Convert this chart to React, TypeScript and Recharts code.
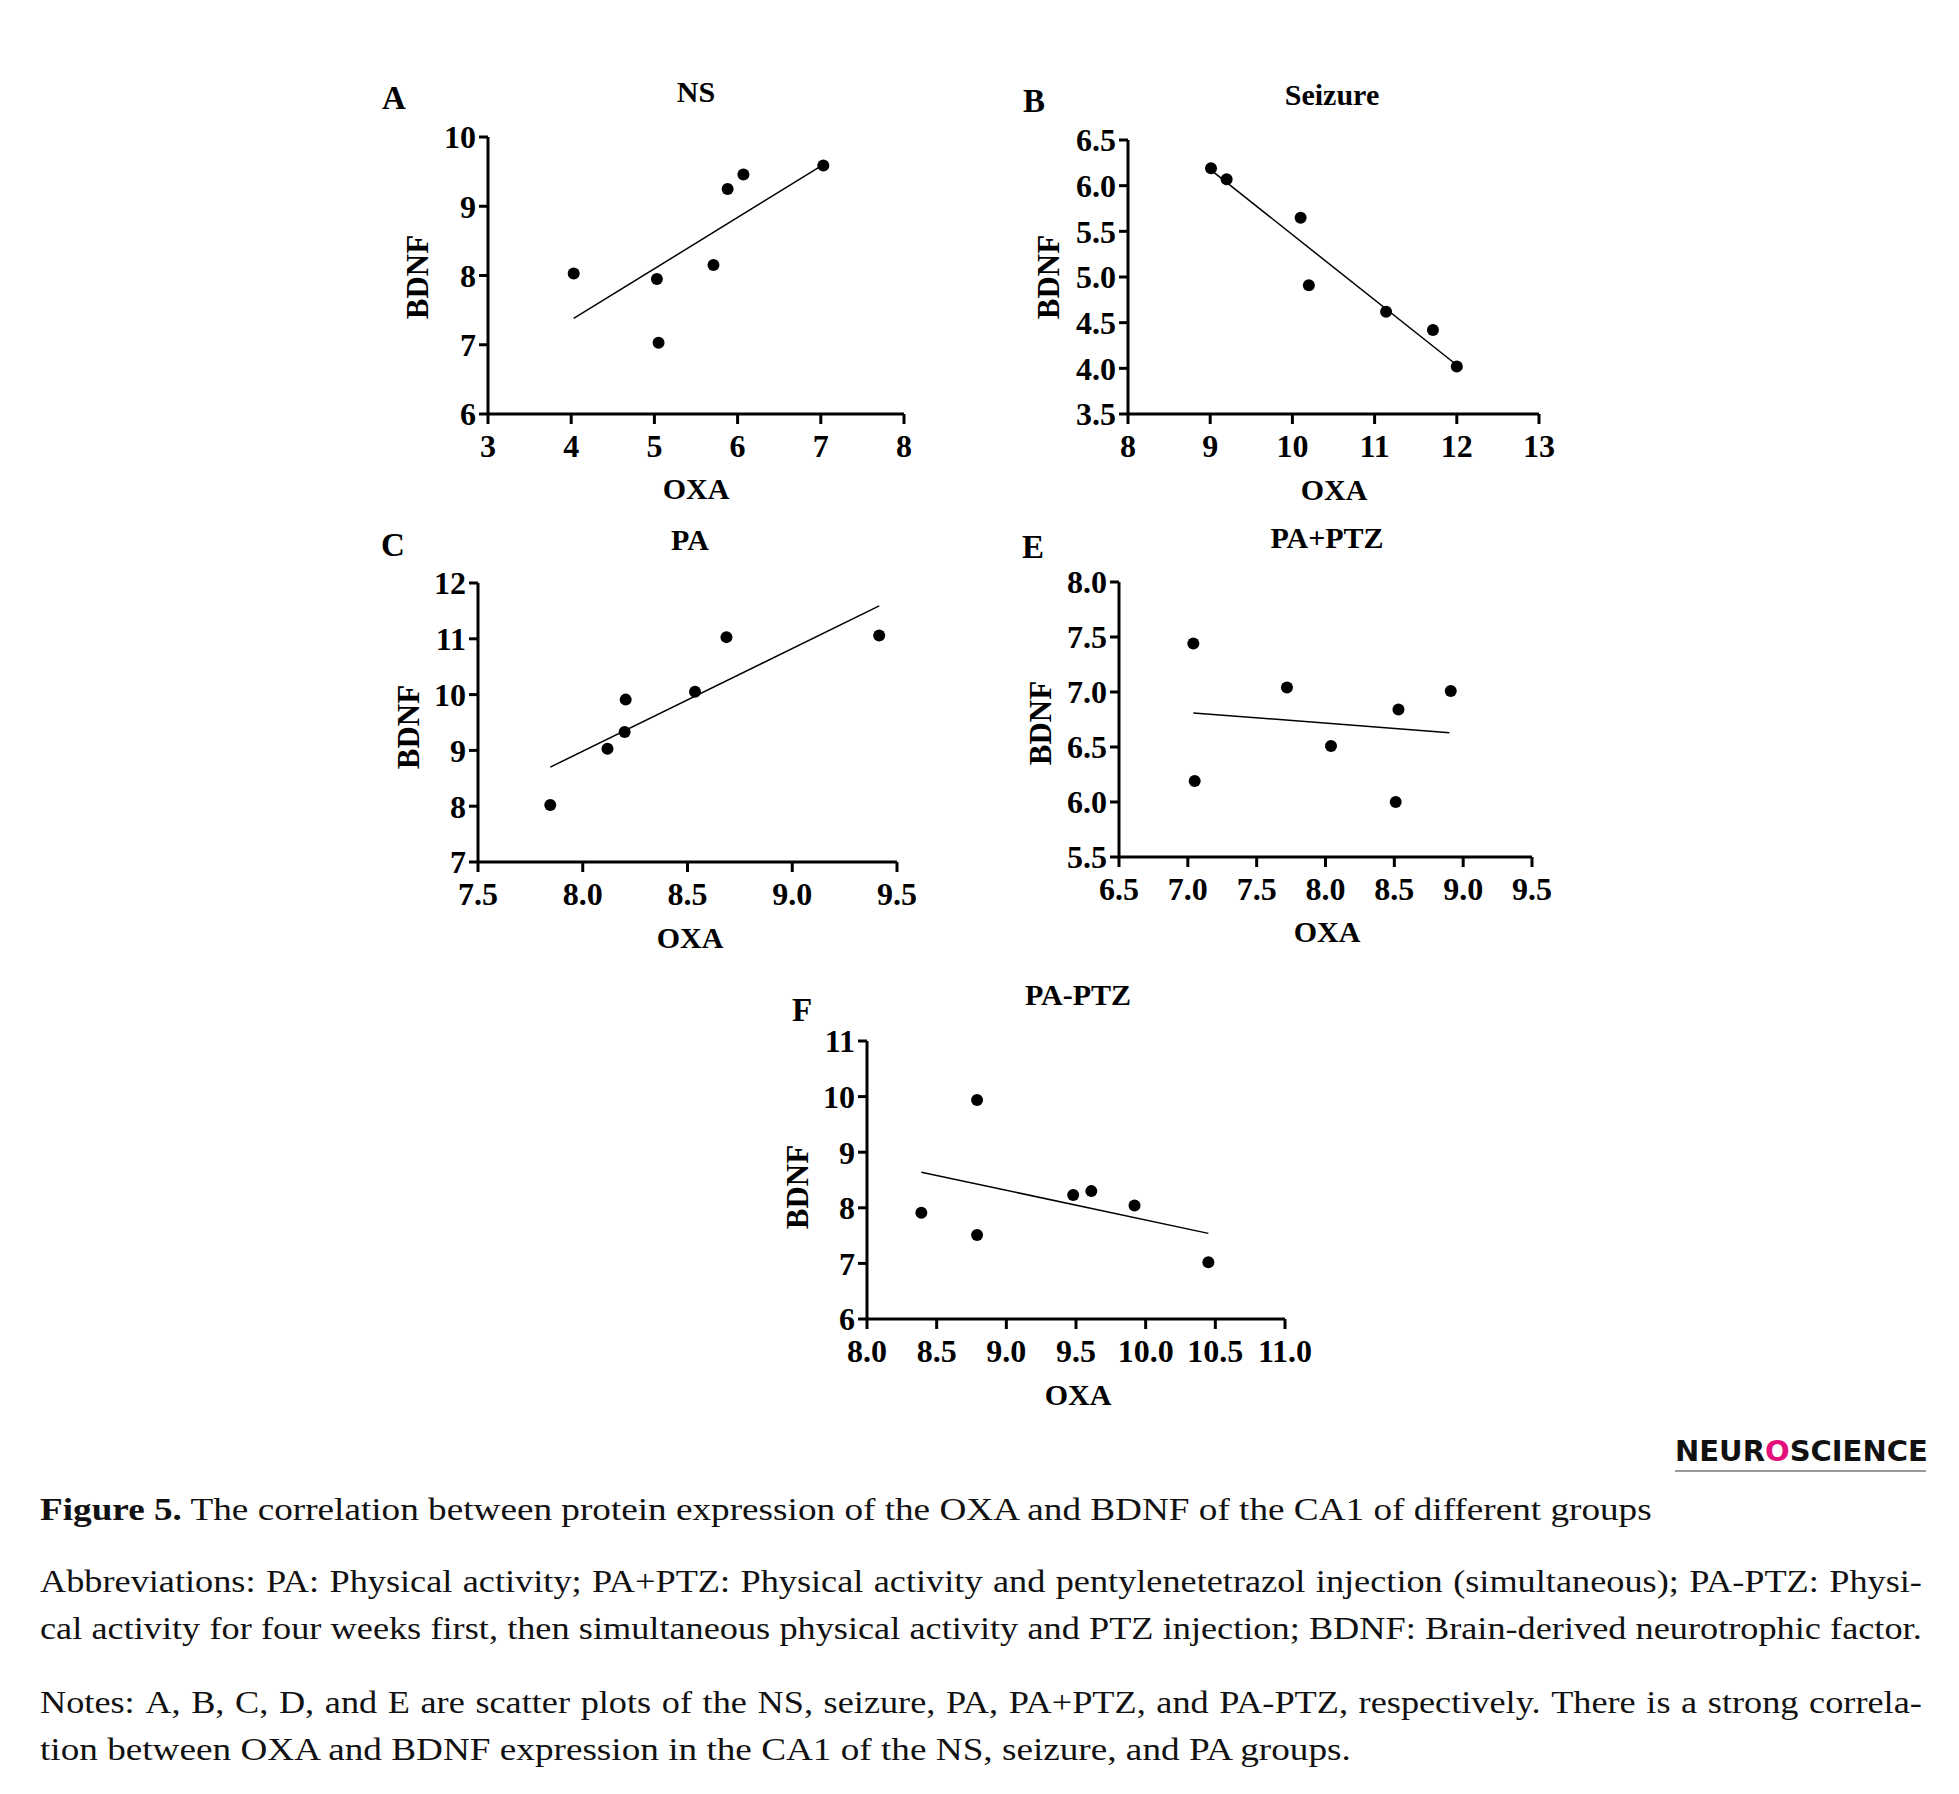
import { ReferenceLine, Scatter, ScatterChart, XAxis, YAxis } from 'recharts'

const FONT = '"Liberation Serif", "Times New Roman", serif'

// A - NS
const nsOxa = [4.03, 5.03, 5.05, 5.71, 5.88, 6.07, 7.03]
const nsBdnf = [8.03, 7.95, 7.03, 8.15, 9.25, 9.46, 9.59]
const nsFitOxa = [4.03, 7.03]
const nsFitBdnf = [7.38, 9.6]
const nsXTicks = [3, 4, 5, 6, 7, 8]
const nsYTicks = [6, 7, 8, 9, 10]

// B - Seizure
const szOxa = [9.01, 9.2, 10.1, 10.2, 11.14, 11.71, 12.0]
const szBdnf = [6.19, 6.07, 5.65, 4.91, 4.62, 4.42, 4.02]
const szFitOxa = [9.01, 11.98]
const szFitBdnf = [6.17, 4.05]
const szXTicks = [8, 9, 10, 11, 12, 13]
const szYTicks = [3.5, 4.0, 4.5, 5.0, 5.5, 6.0, 6.5]

// C - PA
const paOxa = [7.845, 8.118, 8.2, 8.205, 8.536, 8.686, 9.415]
const paBdnf = [8.02, 9.03, 9.33, 9.91, 10.05, 11.03, 11.06]
const paFitOxa = [7.845, 9.415]
const paFitBdnf = [8.7, 11.59]
const paXTicks = [7.5, 8.0, 8.5, 9.0, 9.5]
const paYTicks = [7, 8, 9, 10, 11, 12]

// E - PA+PTZ
const simOxa = [7.04, 7.05, 7.72, 8.04, 8.51, 8.53, 8.91]
const simBdnf = [7.44, 6.19, 7.04, 6.51, 6.0, 6.84, 7.01]
const simFitOxa = [7.04, 8.9]
const simFitBdnf = [6.81, 6.63]
const simXTicks = [6.5, 7.0, 7.5, 8.0, 8.5, 9.0, 9.5]
const simYTicks = [5.5, 6.0, 6.5, 7.0, 7.5, 8.0]

// F - PA-PTZ
const preOxa = [8.39, 8.79, 8.79, 9.48, 9.61, 9.92, 10.45]
const preBdnf = [7.91, 7.51, 9.94, 8.23, 8.3, 8.04, 7.02]
const preFitOxa = [8.39, 10.45]
const preFitBdnf = [8.64, 7.54]
const preXTicks = [8.0, 8.5, 9.0, 9.5, 10.0, 10.5, 11.0]
const preYTicks = [6, 7, 8, 9, 10, 11]

const captionTitle = 'The correlation between protein expression of the OXA and BDNF of the CA1 of different groups'
const abbrevLines = [
	'Abbreviations: PA: Physical activity; PA+PTZ: Physical activity and pentylenetetrazol injection (simultaneous); PA-PTZ: Physi-',
	'cal activity for four weeks first, then simultaneous physical activity and PTZ injection; BDNF: Brain-derived neurotrophic factor.',
]
const notesLines = [
	'Notes: A, B, C, D, and E are scatter plots of the NS, seizure, PA, PA+PTZ, and PA-PTZ, respectively. There is a strong correla-',
	'tion between OXA and BDNF expression in the CA1 of the NS, seizure, and PA groups.',
]

const ML = 110
const MT = 20
const MR = 30
const XH = 110

const tickStyle = {
	fontSize: 32,
	fontWeight: 'bold',
	fill: '#000',
	fontFamily: FONT,
}

const Dot = (props: any) => <circle cx={props.cx} cy={props.cy} r={6} fill='#000' />

const textStyle = (x: number, y: number, size: number, rotate = false): any => ({
	position: 'absolute',
	left: x,
	top: y,
	transform: `translate(-50%, -50%)${rotate ? ' rotate(-90deg)' : ''}`,
	fontFamily: FONT,
	fontWeight: 'bold',
	fontSize: size,
	lineHeight: 1,
	whiteSpace: 'nowrap',
	color: '#000',
})

function Panel(props: any) {
	const {
		letter, title, oxa, bdnf, fitOxa, fitBdnf, xTicks, yTicks, xDigits, yDigits,
		box, letterPos, titlePos, xLabelPos, yLabelPos,
	} = props
	const data = oxa.map((x: number, i: number) => ({ x, y: bdnf[i] }))
	return (
		<>
			<div style={textStyle(letterPos[0], letterPos[1], 33)}>{letter}</div>
			<div style={textStyle(titlePos[0], titlePos[1], 30)}>{title}</div>
			<div style={textStyle(xLabelPos[0], xLabelPos[1], 30)}>OXA</div>
			<div style={textStyle(yLabelPos[0], yLabelPos[1], 31, true)}>BDNF</div>
			<div style={{ position: 'absolute', left: box.left - ML, top: box.top - MT }}>
				<ScatterChart
					width={ML + box.width + MR}
					height={MT + box.height + XH}
					margin={{ top: MT, right: MR, bottom: 0, left: 0 }}
				>
					<XAxis
						type='number'
						dataKey='x'
						domain={[xTicks[0], xTicks[xTicks.length - 1]]}
						ticks={xTicks}
						interval={0}
						allowDataOverflow
						height={XH}
						tick={tickStyle}
						tickFormatter={(v: number) => v.toFixed(xDigits)}
						tickSize={10}
						tickMargin={10}
						axisLine={{ stroke: '#000', strokeWidth: 3 }}
						tickLine={{ stroke: '#000', strokeWidth: 3 }}
					/>
					<YAxis
						type='number'
						dataKey='y'
						domain={[yTicks[0], yTicks[yTicks.length - 1]]}
						ticks={yTicks}
						interval={0}
						allowDataOverflow
						width={ML}
						tick={tickStyle}
						tickFormatter={(v: number) => v.toFixed(yDigits)}
						tickSize={9}
						tickMargin={3}
						axisLine={{ stroke: '#000', strokeWidth: 3 }}
						tickLine={{ stroke: '#000', strokeWidth: 3 }}
					/>
					<ReferenceLine
						segment={[
							{ x: fitOxa[0], y: fitBdnf[0] },
							{ x: fitOxa[1], y: fitBdnf[1] },
						]}
						stroke='#000'
						strokeWidth={1.5}
						ifOverflow='visible'
					/>
					<Scatter data={data} shape={Dot} isAnimationActive={false} />
				</ScatterChart>
			</div>
		</>
	)
}

const CAP_SIZE = 31

// one caption line, widened horizontally to mimic the wider book face of the original
function CapLine({ top, scale, children }: any) {
	return (
		<div
			style={{
				position: 'absolute',
				left: 40,
				top,
				fontFamily: FONT,
				fontSize: CAP_SIZE,
				lineHeight: '47px',
				color: '#111',
				whiteSpace: 'nowrap',
				transform: `scaleX(${scale})`,
				transformOrigin: 'left center',
			}}
		>
			{children}
		</div>
	)
}

// justified line: words spread over the full text width
function JustLine({ top, text }: { top: number; text: string }) {
	const scale = 1.17
	return (
		<div
			style={{
				position: 'absolute',
				left: 40,
				top,
				width: 1882 / scale,
				display: 'flex',
				justifyContent: 'space-between',
				fontFamily: FONT,
				fontSize: CAP_SIZE,
				lineHeight: '47px',
				color: '#111',
				whiteSpace: 'nowrap',
				transform: `scaleX(${scale})`,
				transformOrigin: 'left center',
			}}
		>
			{text.split(' ').map((w, i) => (
				<span key={i} style={{ flexShrink: 0 }}>{w}</span>
			))}
		</div>
	)
}

export default function App() {
	return (
		<div
			style={{
				position: 'absolute',
				left: 0,
				top: 0,
				width: 1959,
				height: 1794,
				background: '#fff',
				overflow: 'hidden',
			}}
		>
			<Panel
				letter='A' title='NS'
				oxa={nsOxa} bdnf={nsBdnf} fitOxa={nsFitOxa} fitBdnf={nsFitBdnf}
				xTicks={nsXTicks} yTicks={nsYTicks} xDigits={0} yDigits={0}
				box={{ left: 488, top: 137, width: 416, height: 277 }}
				letterPos={[394, 98]} titlePos={[696, 92]}
				xLabelPos={[696, 489]} yLabelPos={[417, 277]}
			/>
			<Panel
				letter='B' title='Seizure'
				oxa={szOxa} bdnf={szBdnf} fitOxa={szFitOxa} fitBdnf={szFitBdnf}
				xTicks={szXTicks} yTicks={szYTicks} xDigits={0} yDigits={1}
				box={{ left: 1128, top: 140, width: 411, height: 274 }}
				letterPos={[1034, 101]} titlePos={[1332, 95]}
				xLabelPos={[1334, 490]} yLabelPos={[1048, 277]}
			/>
			<Panel
				letter='C' title='PA'
				oxa={paOxa} bdnf={paBdnf} fitOxa={paFitOxa} fitBdnf={paFitBdnf}
				xTicks={paXTicks} yTicks={paYTicks} xDigits={1} yDigits={0}
				box={{ left: 478, top: 583, width: 419, height: 279 }}
				letterPos={[393, 545]} titlePos={[690, 540]}
				xLabelPos={[690, 938]} yLabelPos={[408, 727]}
			/>
			<Panel
				letter='E' title='PA+PTZ'
				oxa={simOxa} bdnf={simBdnf} fitOxa={simFitOxa} fitBdnf={simFitBdnf}
				xTicks={simXTicks} yTicks={simYTicks} xDigits={1} yDigits={1}
				box={{ left: 1119, top: 582, width: 413, height: 275 }}
				letterPos={[1033, 547]} titlePos={[1327, 538]}
				xLabelPos={[1327, 932]} yLabelPos={[1040, 723]}
			/>
			<Panel
				letter='F' title='PA-PTZ'
				oxa={preOxa} bdnf={preBdnf} fitOxa={preFitOxa} fitBdnf={preFitBdnf}
				xTicks={preXTicks} yTicks={preYTicks} xDigits={1} yDigits={0}
				box={{ left: 867, top: 1041, width: 418, height: 278 }}
				letterPos={[802, 1010]} titlePos={[1078, 995]}
				xLabelPos={[1078, 1395]} yLabelPos={[797, 1187]}
			/>

			<div
				style={{
					position: 'absolute',
					left: 1675,
					top: 1434,
					width: 251,
					fontFamily: '"DejaVu Sans", sans-serif',
					fontWeight: 'bold',
					fontSize: 29,
					lineHeight: '34px',
					color: '#111',
					whiteSpace: 'nowrap',
					borderBottom: '2px solid #999',
					paddingBottom: 2,
				}}
			>
				NEUR<span style={{ color: '#e2127a' }}>O</span>SCIENCE
			</div>

			<CapLine top={1486} scale={1.2}>
				<b>Figure 5.</b> {captionTitle}
			</CapLine>
			<JustLine top={1558} text={abbrevLines[0]} />
			<JustLine top={1605} text={abbrevLines[1]} />
			<JustLine top={1679} text={notesLines[0]} />
			<CapLine top={1726} scale={1.2}>
				{notesLines[1]}
			</CapLine>
		</div>
	)
}
